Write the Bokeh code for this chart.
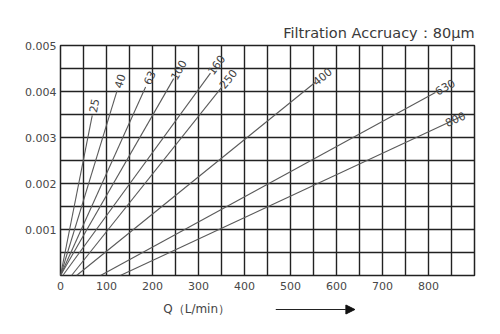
import math
from bokeh.plotting import figure
from bokeh.layouts import column
from bokeh.models import (FixedTicker, PrintfTickFormatter, Arrow, NormalHead,
                          ColumnDataSource, Range1d)
from bokeh.embed import file_html
from bokeh.resources import INLINE
from bokeh.core.properties import value

# ---- data ----
sizes = ["25", "40", "63", "100", "160", "250", "400", "630", "800"]
q_start = [0, 0, 0, 0, 5, 24, 35, 87, 130]          # L/min where each curve leaves the axis
q_end = [69, 123, 185, 246, 326, 351, 554, 815, 876]  # L/min at curve end
dp_end = [0.00348, 0.00402, 0.0041, 0.00428, 0.0044, 0.0041, 0.0042, 0.00398, 0.00348]
x_ticks = [0, 100, 200, 300, 400, 500, 600, 700, 800]
y_ticks = [0.001, 0.002, 0.003, 0.004, 0.005]
x_grid = list(range(0, 901, 50))
y_grid = [i * 0.0005 for i in range(11)]
x_caption = "Q\uff08L/min\uff09"

# label placement along each line (screen px beyond the line end; style only)
label_shift = [10, 10, 10, 10, 10, 10, 9, 11, -9]

W, H = 500, 334
H_MAIN = 298
H_CAP = H - H_MAIN
B_L, B_R, B_T, B_B = 60, 26, 45, 23
X0, X1, Y0, Y1 = 0, 900, 0, 0.005
fw, fh = W - B_L - B_R, H_MAIN - B_T - B_B
sx, sy = fw / (X1 - X0), fh / (Y1 - Y0)

xr = Range1d(X0, X1)
p = figure(width=W, height=H_MAIN, x_range=xr, y_range=Range1d(Y0, Y1),
           output_backend="svg", toolbar_location=None,
           min_border_left=B_L, min_border_right=B_R, min_border_top=B_T, min_border_bottom=B_B)

p.title.text = "Filtration Accruacy\uff1a80\u03bcm"
p.title.align = "right"
p.title.text_font = "DejaVu Sans"
p.title.text_font_style = "normal"
p.title.text_font_size = "14.5px"
p.title.text_color = "#3a3a3a"

p.outline_line_color = "#222222"
p.outline_line_width = 1.5
p.outline_line_alpha = 1

p.xaxis.ticker = FixedTicker(ticks=x_ticks)
p.yaxis.ticker = FixedTicker(ticks=y_ticks)
p.yaxis.formatter = PrintfTickFormatter(format="%.3f")
for ax in (p.xaxis[0], p.yaxis[0]):
    ax.axis_line_color = None
    ax.major_tick_line_color = None
    ax.minor_tick_line_color = None
    ax.major_tick_out = 0
    ax.major_tick_in = 0
    ax.minor_tick_out = 0
    ax.major_label_text_font = "DejaVu Sans"
    ax.major_label_text_font_size = "11px"
    ax.major_label_text_color = "#484848"
p.xaxis.major_label_standoff = 6
p.yaxis.major_label_standoff = 4

p.xgrid.ticker = FixedTicker(ticks=x_grid)
p.ygrid.ticker = FixedTicker(ticks=y_grid)
for g in (p.xgrid[0], p.ygrid[0]):
    g.grid_line_color = "#222222"
    g.grid_line_width = 1.4
    g.grid_line_alpha = 1

xs = [[a, b] for a, b in zip(q_start, q_end)]
ys = [[0, d] for d in dp_end]
p.multi_line(xs=xs, ys=ys, line_color="#5a5a5a", line_width=1.1)

angles = [math.atan2(d * sy, (b - a) * sx) for a, b, d in zip(q_start, q_end, dp_end)]
xo = [s * math.cos(a) for s, a in zip(label_shift, angles)]
yo = [-s * math.sin(a) for s, a in zip(label_shift, angles)]
src = ColumnDataSource(dict(x=q_end, y=dp_end, t=sizes, a=angles, xo=xo, yo=yo))
p.text(x="x", y="y", text="t", angle="a", source=src, text_align="center",
       text_baseline="middle", text_font=value("DejaVu Sans"), text_font_size="11px",
       text_color="#444444", x_offset="xo", y_offset="yo")

# caption strip under the chart, sharing the flow axis: caption and direction arrow
cap = figure(width=W, height=H_CAP, x_range=xr, y_range=Range1d(0, H_CAP),
             output_backend="svg", toolbar_location=None,
             x_axis_location=None, y_axis_location=None,
             min_border_left=B_L, min_border_right=B_R,
             min_border_top=0, min_border_bottom=0)
cap.grid.visible = False
cap.outline_line_color = None
cap.text(x=[296], y=[H - 308], text=[x_caption], text_align="center", text_baseline="middle",
         text_font=value("DejaVu Sans"), text_font_size="12px", text_color="#444444")
cap.add_layout(Arrow(x_start=468, y_start=H - 309, x_end=640, y_end=H - 309,
                     line_color="#222222", line_width=1,
                     end=NormalHead(size=9, fill_color="#111111", line_color="#111111")))

layout = column(p, cap, spacing=0)
open("out.html", "w").write(file_html(layout, INLINE))
